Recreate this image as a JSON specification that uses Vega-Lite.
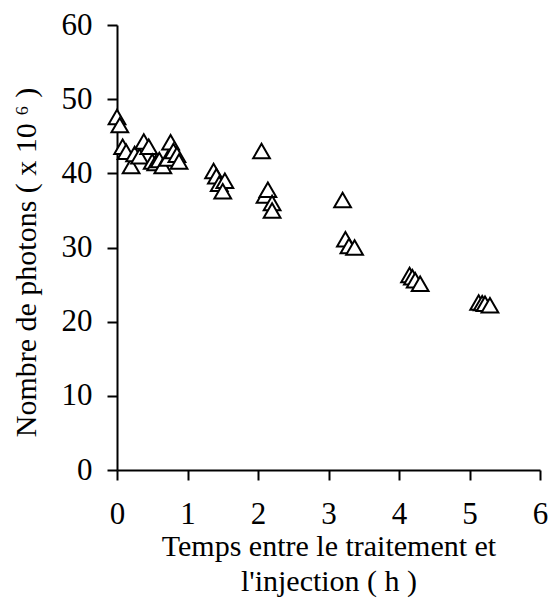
{
  "$schema": "https://vega.github.io/schema/vega-lite/v6.json",
  "autosize": {"type": "none"},
  "padding": {"left": 117, "top": 25, "right": 8, "bottom": 140},
  "width": 423,
  "height": 445,
  "background": "white",
  "config": {"view": {"stroke": null}, "font": "Liberation Serif"},
  "data": {"values": [
    {"t": 0.0, "n": 47.6},
    {"t": 0.04, "n": 46.5},
    {"t": 0.08, "n": 43.6},
    {"t": 0.13, "n": 42.9},
    {"t": 0.2, "n": 41.0},
    {"t": 0.25, "n": 42.6},
    {"t": 0.32, "n": 42.3},
    {"t": 0.38, "n": 44.3},
    {"t": 0.45, "n": 43.6},
    {"t": 0.5, "n": 41.6},
    {"t": 0.55, "n": 41.4},
    {"t": 0.6, "n": 41.8},
    {"t": 0.65, "n": 41.0},
    {"t": 0.72, "n": 42.0},
    {"t": 0.76, "n": 44.2},
    {"t": 0.8, "n": 43.0},
    {"t": 0.85, "n": 42.5},
    {"t": 0.88, "n": 41.6},
    {"t": 1.37, "n": 40.3},
    {"t": 1.41, "n": 39.6},
    {"t": 1.45, "n": 38.6},
    {"t": 1.53, "n": 39.0},
    {"t": 1.5, "n": 37.6},
    {"t": 2.05, "n": 43.0},
    {"t": 2.1, "n": 37.0},
    {"t": 2.14, "n": 37.8},
    {"t": 2.2, "n": 36.0},
    {"t": 2.2, "n": 35.0},
    {"t": 3.2, "n": 36.4},
    {"t": 3.24, "n": 31.1},
    {"t": 3.29, "n": 30.2},
    {"t": 3.37, "n": 30.0},
    {"t": 4.15, "n": 26.3},
    {"t": 4.19, "n": 26.0},
    {"t": 4.23, "n": 25.6},
    {"t": 4.3, "n": 25.1},
    {"t": 5.13, "n": 22.6},
    {"t": 5.18, "n": 22.5},
    {"t": 5.22, "n": 22.4},
    {"t": 5.29, "n": 22.2}
  ]},
  "mark": {"type": "point", "shape": "triangle-up", "filled": false, "fill": "white", "fillOpacity": 1, "stroke": "black", "strokeWidth": 2, "size": 280, "opacity": 1},
  "encoding": {
    "x": {"field": "t", "type": "quantitative",
      "scale": {"domain": [0, 6], "nice": false, "zero": true},
      "axis": {"values": [0,1,2,3,4,5,6], "grid": false, "domainColor": "black", "domainWidth": 2, "tickColor": "black", "tickWidth": 2, "tickSize": 10,
        "labelFont": "Liberation Serif", "labelFontSize": 31, "labelColor": "black", "labelPadding": 19, "labelFlush": false, "labelOverlap": false, "labelBound": false,
        "title": ["Temps entre le traitement et", "l'injection  ( h )"], "titleFont": "Liberation Serif", "titleFontSize": 30, "titleFontWeight": "normal", "titleColor": "black", "titlePadding": 2, "titleLineHeight": 35}},
    "y": {"field": "n", "type": "quantitative",
      "scale": {"domain": [0, 60], "nice": false},
      "axis": {"values": [0,10,20,30,40,50,60], "grid": false, "domainColor": "black", "domainWidth": 2, "tickColor": "black", "tickWidth": 2, "tickSize": 10,
        "labelFont": "Liberation Serif", "labelFontSize": 31, "labelColor": "black", "labelPadding": 15, "labelFlush": false, "labelOverlap": false,
        "title": "Nombre de photons ( x 10 ⁶ )", "titleFont": "Liberation Serif", "titleFontSize": 30, "titleFontWeight": "normal", "titleColor": "black", "titlePadding": 20, "titleY": 237}}
  }
}
